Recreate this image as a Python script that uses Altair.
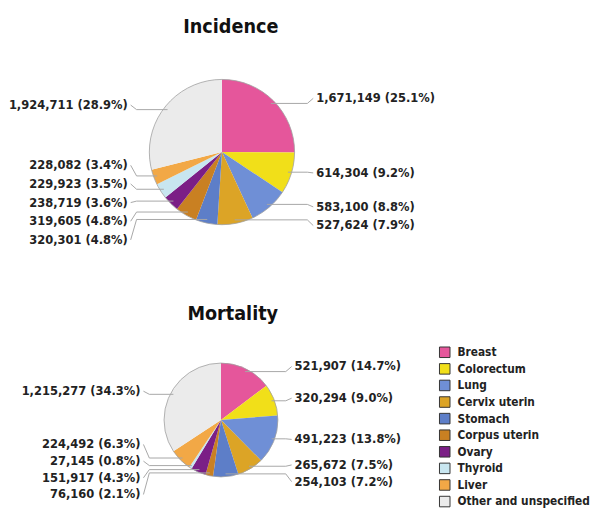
import math
import altair as alt
import pandas as pd

categories = ["Breast", "Colorectum", "Lung", "Cervix uterin", "Stomach",
              "Corpus uterin", "Ovary", "Thyroid", "Liver", "Other and unspecified"]
colors = ["#e5569b", "#f1df19", "#6f8fd6", "#dca426", "#5d7ec8",
          "#c98022", "#7b1f86", "#c8e6f0", "#f2a846", "#ebebeb"]
incidence = [1671149, 614304, 583100, 527624, 320301, 319605, 238719, 229923, 228082, 1924711]
incidence_pct = [25.1, 9.2, 8.8, 7.9, 4.8, 4.8, 3.6, 3.5, 3.4, 28.9]
mortality = [521907, 320294, 491223, 265672, 254103, 76160, 151917, 27145, 224492, 1215277]
mortality_pct = [14.7, 9.0, 13.8, 7.5, 7.2, 2.1, 4.3, 0.8, 6.3, 34.3]

FONT = "Liberation Sans Narrow, DejaVu Sans Condensed, Roboto Condensed, Arial Narrow, sans-serif"


def spread(items, spacing):
    items = sorted(items, key=lambda t: t[1])
    clusters = [[it] for it in items]

    def pos(cl):
        c = sum(y for _, y in cl) / len(cl)
        n = len(cl)
        return [c + (k - (n - 1) / 2) * spacing for k in range(n)]

    merged = True
    while merged:
        merged = False
        for i in range(len(clusters) - 1):
            if pos(clusters[i])[-1] + spacing > pos(clusters[i + 1])[0] + 1e-9:
                clusters[i] = clusters[i] + clusters[i + 1]
                del clusters[i + 1]
                merged = True
                break
    out = {}
    for cl in clusters:
        for (idx, _), y in zip(cl, pos(cl)):
            out[idx] = y
    return out


def panel(title, values, pcts, W, H, r, gap_r, gap_l, spacing, title_offset, title_dx, legend):
    cx, cy = W / 2, H / 2
    total = sum(values)
    cum = 0
    rows = []
    for i, (c, v, p) in enumerate(zip(categories, values, pcts)):
        mid = 2 * math.pi * (cum + v / 2) / total
        cum += v
        side = 1 if math.sin(mid) >= 0 else -1
        rows.append(dict(i=i, category=c, value=v, pct=p, side=side,
                         ex=cx + 0.95 * r * math.sin(mid),
                         ey=cy - 0.95 * r * math.cos(mid),
                         ay=cy - 1.03 * r * math.cos(mid) - 1,
                         label=f"{v:,} ({p:.1f}%)"))
    for s in (1, -1):
        ys = spread([(d["i"], d["ay"]) for d in rows if d["side"] == s], spacing)
        for d in rows:
            if d["side"] == s:
                d["ly"] = ys[d["i"]]
                d["lx"] = cx + (r + gap_r) if s > 0 else cx - (r + gap_l)
    pie_df = pd.DataFrame([dict(category=d["category"], value=d["value"], order=d["i"]) for d in rows])
    lab_df = pd.DataFrame([dict(x=d["lx"], y=d["ly"], label=d["label"], side=d["side"]) for d in rows])
    line_rows = []
    for d in rows:
        s = d["side"]
        line_rows += [
            dict(id=d["i"], step=0, x=d["ex"], y=d["ey"]),
            dict(id=d["i"], step=1, x=d["lx"] - s * 9, y=d["ey"]),
            dict(id=d["i"], step=2, x=d["lx"] - s * 3, y=d["ly"]),
        ]
    line_df = pd.DataFrame(line_rows)

    xs = alt.X("x:Q", scale=alt.Scale(domain=[0, W], nice=False), axis=None)
    ys_ = alt.Y("y:Q", scale=alt.Scale(domain=[0, H], reverse=True, nice=False), axis=None)

    pie = alt.Chart(pie_df).mark_arc(radius=r).encode(
        theta=alt.Theta("value:Q", stack=True),
        color=alt.Color("category:N", scale=alt.Scale(domain=categories, range=colors),
                        sort=categories, legend=legend),
        order=alt.Order("order:Q"),
    )
    outline = alt.Chart(pie_df).mark_arc(radius=r, fillOpacity=0, stroke="#a0a0a0", strokeWidth=0.8).encode(
        theta=alt.Theta("sum(value):Q"),
    )
    lines = alt.Chart(line_df).mark_line(color="#a6a6a6", strokeWidth=1).encode(
        x=xs, y=ys_, detail="id:N", order="step:Q"
    )
    txt_r = alt.Chart(lab_df).transform_filter("datum.side > 0").mark_text(
        font=FONT, fontSize=13, fontWeight="bold", color="#222", align="left", baseline="middle"
    ).encode(x=xs, y=ys_, text="label:N")
    txt_l = alt.Chart(lab_df).transform_filter("datum.side < 0").mark_text(
        font=FONT, fontSize=13, fontWeight="bold", color="#222", align="right", baseline="middle"
    ).encode(x=xs, y=ys_, text="label:N")
    return alt.layer(pie, outline, lines, txt_r, txt_l).properties(
        width=W, height=H,
        title=alt.Title(title, font=FONT, fontSize=20, fontWeight="bold", color="#111",
                        dx=title_dx, offset=title_offset, anchor="middle"),
    )


legend = alt.Legend(title=None, orient="none", legendX=437, legendY=6, symbolType="square",
                    symbolSize=115, symbolStrokeColor="#333", symbolStrokeWidth=1,
                    labelFont=FONT, labelFontSize=12, labelFontWeight="bold",
                    labelColor="#222", rowPadding=0.9, labelOffset=7)

top = panel("Incidence", incidence, incidence_pct, 432, 226, 74, 22, 22, 19, 4, 9, None)
bottom = panel("Mortality", mortality, mortality_pct, 430, 162, 58, 17, 24, 17, 16.5, 12, legend)

chart = alt.vconcat(top, bottom, spacing=42).resolve_legend(color="independent").properties(
    padding={"left": 0, "top": 5, "right": 0, "bottom": 0}
).configure_view(stroke=None, fill="white")

chart.save("out.html", embed_options={"renderer": "svg", "actions": False})
